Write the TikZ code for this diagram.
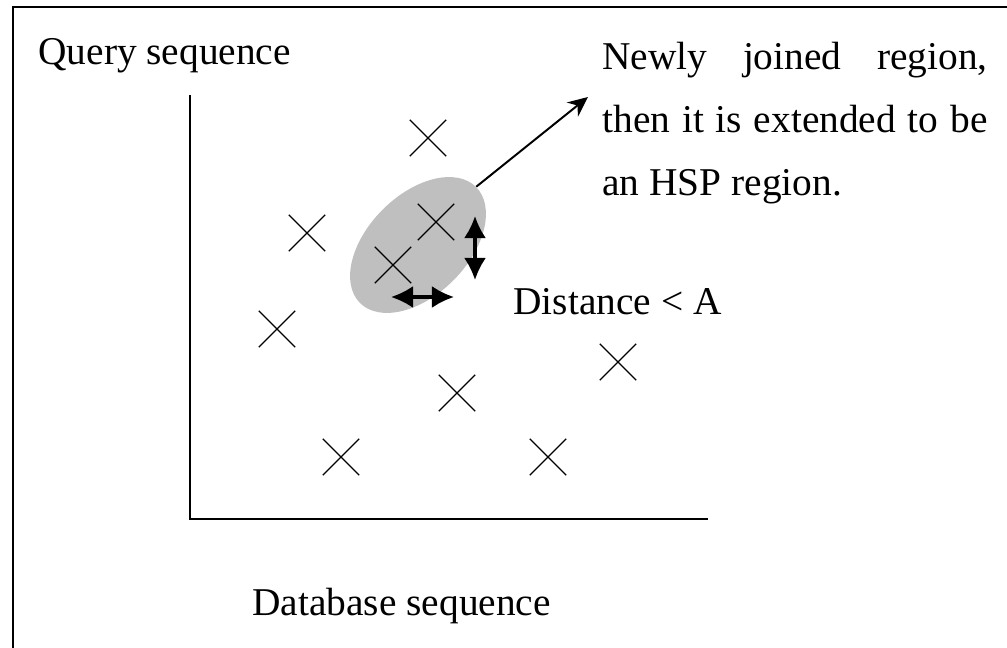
\documentclass[tikz,border=0pt]{standalone}
\usepackage{fontspec}
\setmainfont{Liberation Serif}
\usetikzlibrary{positioning, shapes, arrows.meta}

\begin{document}
\begin{tikzpicture}[x=0.025cm, y=-0.025cm, semithick,
    >={Stealth[length=0.5cm, width=0.45cm]},
    lbl/.style={font=\fontsize{28}{44.8}\selectfont, inner sep=0pt, anchor=base west},
    hit/.style={draw, cross out, minimum size=0.875cm, inner sep=0pt, line width=0.9pt},
    gap/.style={{Latex[length=0.55cm, width=0.55cm]}-{Latex[length=0.55cm, width=0.55cm]}, line width=2.2pt},
  ]
  \useasboundingbox (0,0) rectangle (1007,648);

  % outer frame (only top and left edge visible)
  \coordinate (fc) at (13,7);
  \draw[line width=2.1pt] (13,660) -- (fc) -- (1020,7);

  % axes
  \coordinate (org) at (190,519);
  \coordinate (ytop) at (190,95);
  \coordinate (xend) at (708,519);
  \draw[line width=1.7pt] (ytop) -- (org) -- (xend);

  % joined region
  \node[ellipse, fill=gray!50, rotate=45, inner sep=0pt,
        minimum width=4.1cm, minimum height=2.5cm] (hsp) at (418,245) {};

  % hits
  \node[hit] (h1) at (428,138) {};
  \node[hit] (h2) at (307,233) {};
  \node[hit] (h3) at (436,222) {};
  \node[hit] (h4) at (393,265) {};
  \node[hit] (h5) at (277,329) {};
  \node[hit] (h6) at (457,393) {};
  \node[hit] (h7) at (618,362) {};
  \node[hit] (h8) at (341,457) {};
  \node[hit] (h9) at (548,457) {};

  % labels
  \node[lbl] (qseq) at (38,65) {Query sequence};
  \node[lbl] (dbseq) at (252,615) {Database sequence};
  \node[lbl] (dist) at (513,315) {Distance < A};
  \node[lbl, text width=9.625cm, align=justify] (newreg) at (602,70)
    {Newly joined region,\linebreak then it is extended to be an HSP region.};

  \coordinate (tip) at (588,97);
  \coordinate (va1) at (475,216);
  \coordinate (va2) at (475,280);
  \coordinate (ha1) at (391,297);
  \coordinate (ha2) at (454,297);

  \path[->, line width=1.4pt]
    (hsp.east) edge (tip);
  \path[gap]
    (va1) edge (va2)
    (ha1) edge (ha2);
\end{tikzpicture}
\end{document}
